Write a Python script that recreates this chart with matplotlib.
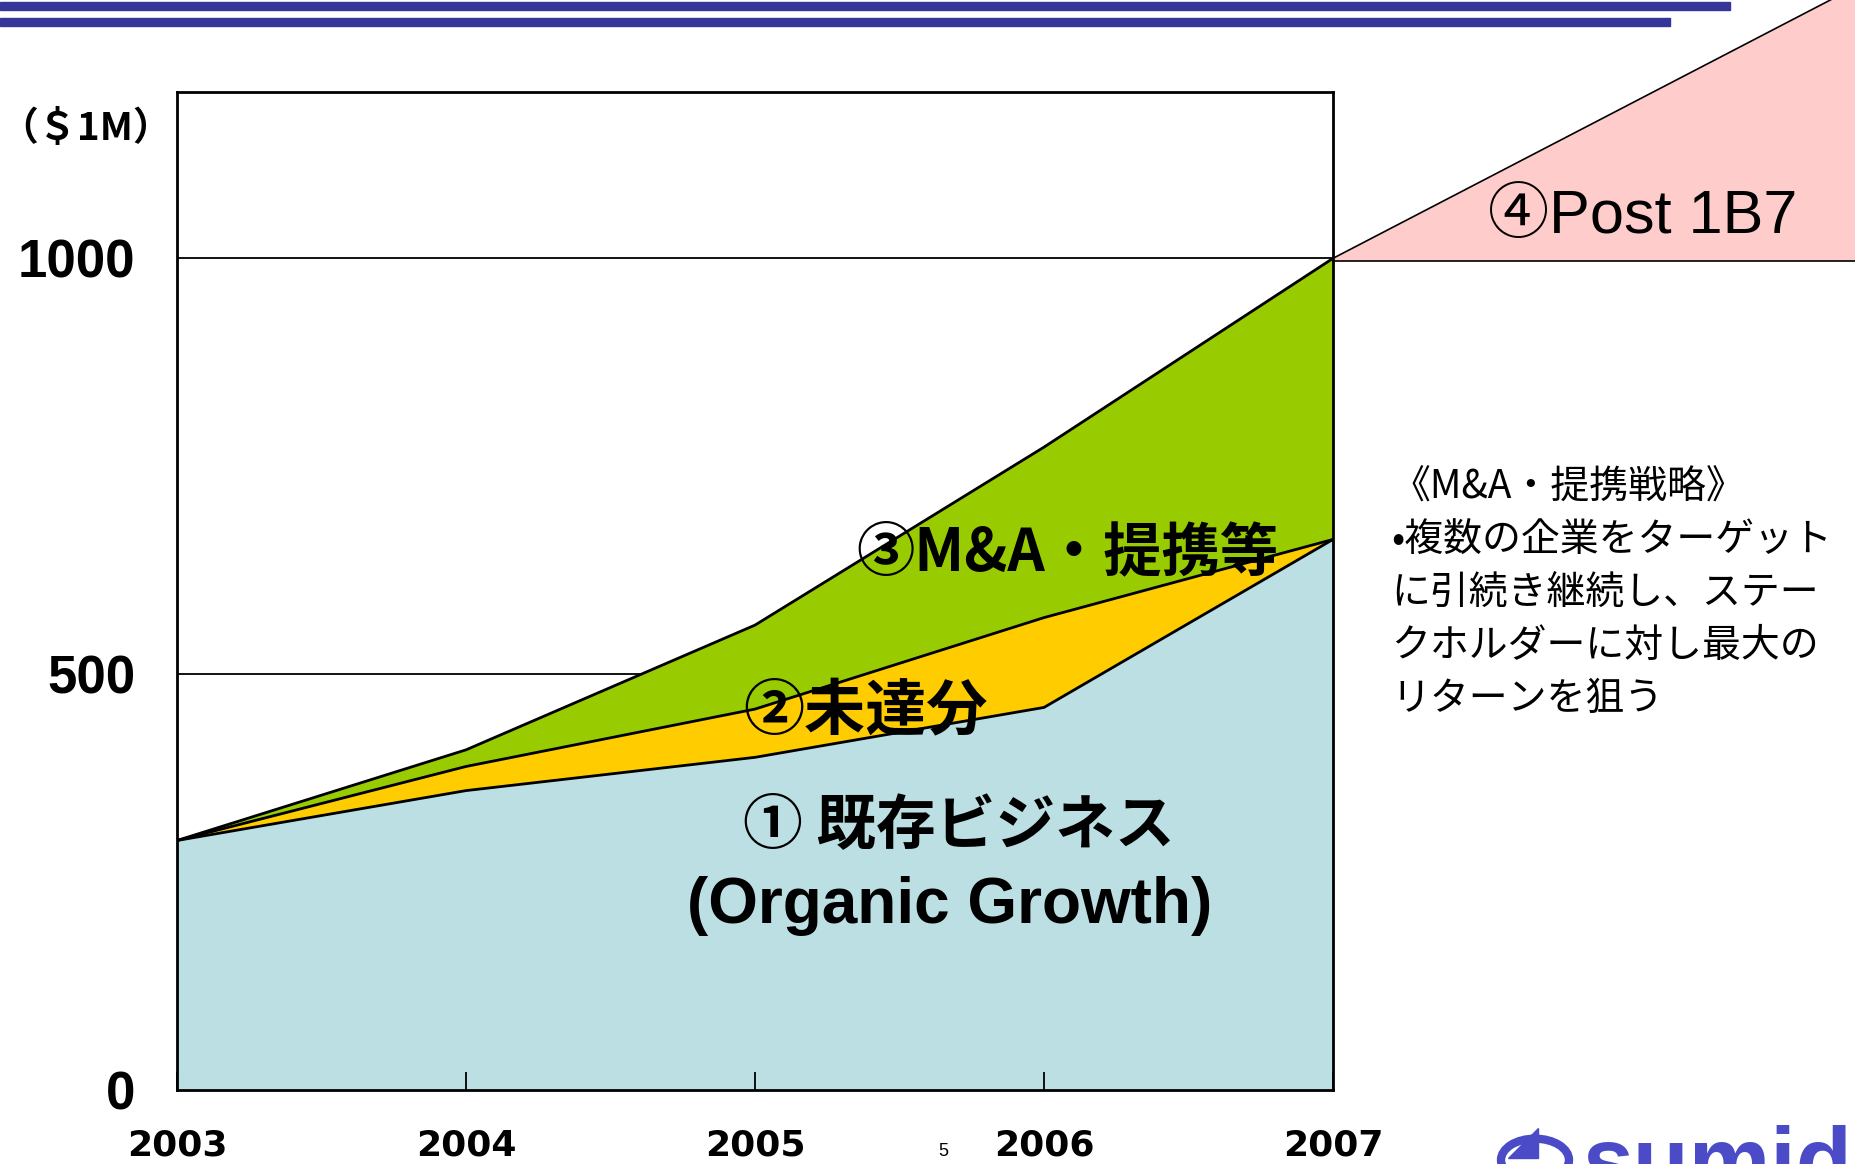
import matplotlib
matplotlib.use('Agg')
from matplotlib import pyplot as plt
from matplotlib.patches import Circle, Polygon

plt.rcParams['font.family'] = ['Noto Sans CJK JP', 'DejaVu Sans']

# data ($1M)
years = [2003, 2004, 2005, 2006, 2007]
organic = [300, 360, 400, 460, 662]        # ① 既存ビジネス
shortfall = [300, 389, 458, 568, 662]      # top of ② 未達分
mna = [300, 409, 559, 773, 1000]           # top of ③ M&A・提携等
post_x = [2007, 2009]
post_top = [1000, 1361]                    # ④ Post 1B7 wedge
post_base = [997, 997]
yticks = [0, 500, 1000]

W, H = 1856, 1164


def px(x, y):
    # pixel position -> figure fraction
    return x / W, 1 - y / H


fig = plt.figure(figsize=(W / 100, H / 100), dpi=100, facecolor='white')

# two blue bars at the top
fig.patches.append(plt.Rectangle(px(0, 10), 1730 / W, 8 / H, color='#35359a',
                                 transform=fig.transFigure, figure=fig))
fig.patches.append(plt.Rectangle(px(0, 25.5), 1670 / W, 8 / H, color='#35359a',
                                 transform=fig.transFigure, figure=fig))

ax = fig.add_axes([177 / W, 74 / H, 1156 / W, 998 / H])
ax.set_xlim(2003, 2007)
ax.set_ylim(0, 1200)

ax.fill_between(years, 0, organic, color='#bbdfe3', lw=0)
ax.fill_between(years, organic, shortfall, color='#ffcc00', lw=0)
ax.fill_between(years, shortfall, mna, color='#99cc00', lw=0)
ax.plot(years, organic, color='black', lw=2)
ax.plot(years, shortfall, color='black', lw=2)
ax.plot(years, mna, color='black', lw=2)

for v in yticks[1:]:
    ax.axhline(v, color='black', lw=1.3, zorder=0.5)

# post 1B7 wedge sticks out of the axes
ax.fill_between(post_x, post_base, post_top, color='#ffcccc', lw=0, clip_on=False)
ax.plot(post_x, post_top, color='black', lw=1.2, clip_on=False)
ax.plot(post_x, post_base, color='black', lw=1.2, clip_on=False)

for s in ax.spines.values():
    s.set_linewidth(2)
    s.set_zorder(5)

ax.set_xticks(years)
ax.set_xticklabels([str(y) for y in years], family='DejaVu Sans',
                   fontweight='bold', fontsize=26)
ax.tick_params(axis='x', direction='in', length=13, width=1.3, pad=28)
ax.set_yticks(yticks)
ax.set_yticklabels([str(v) for v in yticks],
                   family=['Liberation Sans', 'DejaVu Sans'],
                   fontweight='bold', fontsize=38)
ax.tick_params(axis='y', length=0, pad=30)

# labels
fig.text(*px(86, 128), '（＄1M）', fontsize=28, fontweight='bold',
         ha='center', va='center')
fig.text(*px(1067, 553), '③M&A・提携等', fontsize=42, fontweight='bold',
         ha='center', va='center')
fig.text(*px(866, 712), '②未達分', fontsize=44, fontweight='bold',
         ha='center', va='center')
fig.text(*px(959, 826), '① 既存ビジネス', fontsize=43, fontweight='bold',
         ha='center', va='center')
fig.text(*px(950, 906), '(Organic Growth)', fontsize=46, fontweight='bold',
         family=['Liberation Sans', 'DejaVu Sans'], ha='center', va='center')
fig.text(*px(1643, 217), '④Post 1B7', fontsize=44,
         family=['Liberation Sans', 'Noto Sans CJK JP'], ha='center', va='center')
fig.text(*px(1391, 468), '《M&A・提携戦略》\n•複数の企業をターゲット\nに引続き継続し、ステー\n'
         'クホルダーに対し最大の\nリターンを狙う', fontsize=28, linespacing=1.41,
         ha='left', va='top')
fig.text(*px(943, 1152), '5', fontsize=13, family=['Liberation Sans', 'DejaVu Sans'],
         ha='center', va='center')

# sumida logo, cut off by the bottom edge
fig.patches.append(Circle(px(1535, 1160), 34 / W, fill=False, lw=6,
                          edgecolor='#4b4bc8', transform=fig.transFigure, figure=fig))
fig.patches.append(Polygon([px(1538, 1128), px(1538, 1158), px(1508, 1158)],
                           closed=True, color='#4b4bc8',
                           transform=fig.transFigure, figure=fig))
fig.text(*px(1583, 1192), 'sumida', fontsize=66, fontweight='bold',
         family=['Liberation Sans', 'DejaVu Sans'], color='#4b4bc8',
         ha='left', va='baseline')

fig.savefig('out.png', dpi=100)
